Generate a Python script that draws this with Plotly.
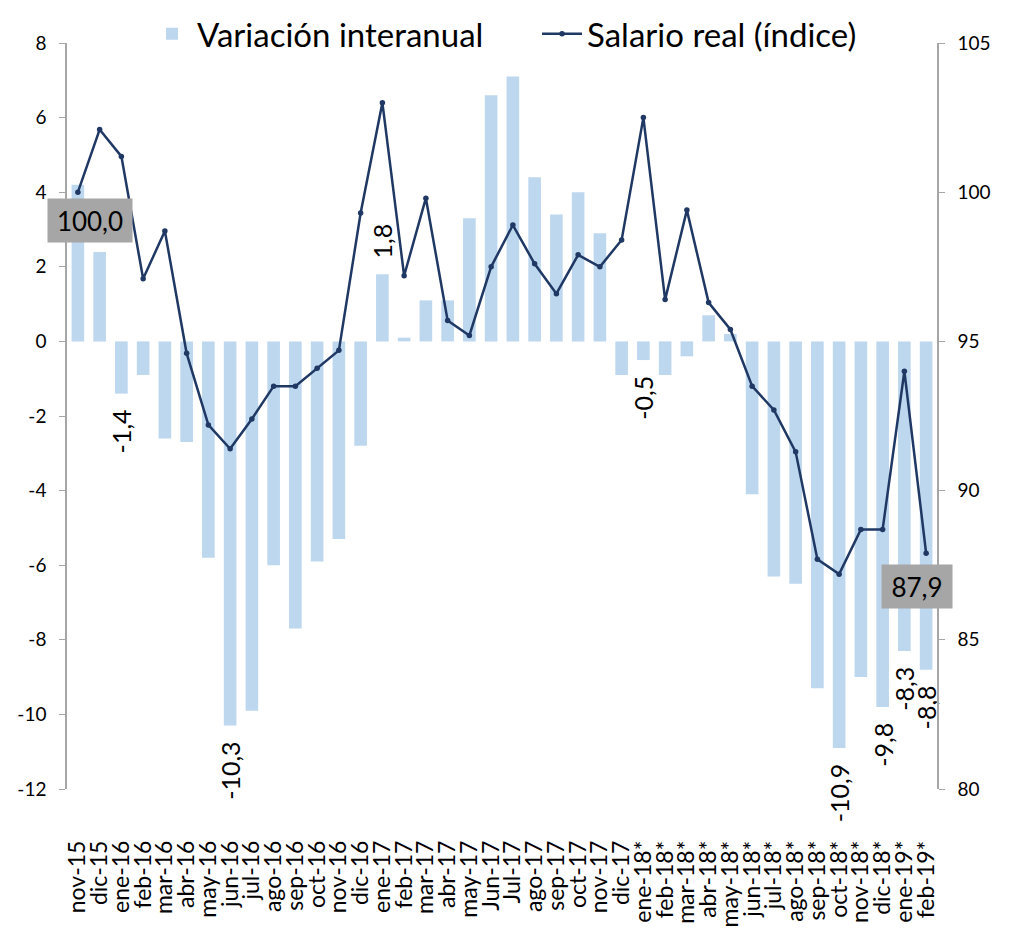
import plotly.graph_objects as go

months = ["nov-15", "dic-15",
          "ene-16", "feb-16", "mar-16", "abr-16", "may-16", "jun-16",
          "jul-16", "ago-16", "sep-16", "oct-16", "nov-16", "dic-16",
          "ene-17", "feb-17", "mar-17", "abr-17", "may-17", "Jun-17",
          "Jul-17", "ago-17", "sep-17", "oct-17", "nov-17", "dic-17",
          "ene-18*", "feb-18*", "mar-18*", "abr-18*", "may-18*", "jun-18*",
          "jul-18*", "ago-18*", "sep-18*", "oct-18*", "nov-18*", "dic-18*",
          "ene-19*", "feb-19*"]

variacion = [4.2, 2.4,
             -1.4, -0.9, -2.6, -2.7, -5.8, -10.3,
             -9.9, -6.0, -7.7, -5.9, -5.3, -2.8,
             1.8, 0.1, 1.1, 1.1, 3.3, 6.6,
             7.1, 4.4, 3.4, 4.0, 2.9, -0.9,
             -0.5, -0.9, -0.4, 0.7, 0.2, -4.1,
             -6.3, -6.5, -9.3, -10.9, -9.0, -9.8,
             -8.3, -8.8]

salario = [100.0, 102.1,
           101.2, 97.1, 98.7, 94.6, 92.2, 91.4,
           92.4, 93.5, 93.5, 94.1, 94.7, 99.3,
           103.0, 97.2, 99.8, 95.7, 95.2, 97.5,
           98.9, 97.6, 96.6, 97.9, 97.5, 98.4,
           102.5, 96.4, 99.4, 96.3, 95.4, 93.5,
           92.7, 91.3, 87.7, 87.2, 88.7, 88.7,
           94.0, 87.9]

# which bars carry a data label
bar_label_flags = [0, 0,
                   1, 0, 0, 0, 0, 1,
                   0, 0, 0, 0, 0, 0,
                   1, 0, 0, 0, 0, 0,
                   0, 0, 0, 0, 0, 0,
                   1, 0, 0, 0, 0, 0,
                   0, 0, 0, 1, 0, 1,
                   1, 1]

left_ticks = [-12, -10, -8, -6, -4, -2, 0, 2, 4, 6, 8]
right_ticks = [80, 85, 90, 95, 100, 105]


def es(v):
    return f"{v:.1f}".replace(".", ",")


PAD = "\u00a0\u00a0"
bar_text = [((es(v) + PAD) if v < 0 else (PAD + es(v))) if f else ""
            for v, f in zip(variacion, bar_label_flags)]

FONT = "Lato"
BAR_COLOR = "#BDD7EE"
LINE_COLOR = "#1F3864"
AXIS_COLOR = "#A6A6A6"

fig = go.Figure()

fig.add_trace(go.Bar(
    x=months, y=variacion, name="Variación interanual",
    marker=dict(color=BAR_COLOR, line=dict(width=0)),
    text=bar_text, textposition="outside", textangle=-90,
    textfont=dict(family=FONT, size=25, color="#000000"),
    constraintext="none", cliponaxis=False,
    xaxis="x", yaxis="y",
))

fig.add_trace(go.Scatter(
    x=months, y=salario, name="Salario real (índice)",
    mode="lines+markers",
    line=dict(color=LINE_COLOR, width=2.5),
    marker=dict(color=LINE_COLOR, size=5.5),
    xaxis="x", yaxis="y2",
))

n = len(months)
boundaries = [i + 0.5 for i in range(n - 1)]

fig.update_layout(
    width=1002, height=930,
    margin=dict(l=59, r=73, t=35, b=149, autoexpand=False),
    paper_bgcolor="white", plot_bgcolor="white",
    font=dict(family=FONT, size=16, color="#000000"),
    bargap=0.42,
    showlegend=True,
    legend=dict(orientation="h", x=0.092, xanchor="left", y=1.05, yanchor="top",
                font=dict(family=FONT, size=33, color="#000000"),
                itemwidth=40, entrywidth=335, bgcolor="rgba(0,0,0,0)"),
    xaxis=dict(
        type="category", range=[-0.5, n - 0.5],
        tickmode="array", tickvals=months,
        showline=False, ticks="", showgrid=False, zeroline=False,
        tickangle=-90, ticklabelstandoff=46,
        tickfont=dict(family=FONT, size=23, color="#000000"),
        anchor="y",
    ),
    xaxis2=dict(
        type="linear", range=[-0.5, n - 0.5],
        overlaying="x", anchor="free", position=12 / 20,
        showline=True, linecolor=AXIS_COLOR, linewidth=1.5,
        ticks="outside", ticklen=8, tickcolor=AXIS_COLOR, tickwidth=1.5,
        tickmode="array", tickvals=boundaries,
        showticklabels=False, showgrid=False, zeroline=False,
    ),
    yaxis=dict(
        range=[-12, 8], tickmode="array", tickvals=left_ticks,
        ticktext=[str(v) for v in left_ticks],
        showline=True, linecolor=AXIS_COLOR, linewidth=1.5,
        ticks="outside", ticklen=6, tickcolor=AXIS_COLOR,
        ticklabelstandoff=9,
        showgrid=False, zeroline=False,
        tickfont=dict(family=FONT, size=19, color="#000000"),
        anchor="x",
    ),
    yaxis2=dict(
        range=[80, 105], tickmode="array", tickvals=right_ticks,
        ticktext=[str(v) for v in right_ticks],
        overlaying="y", side="right", anchor="x",
        showline=True, linecolor=AXIS_COLOR, linewidth=1.5,
        ticks="outside", ticklen=6, tickcolor=AXIS_COLOR,
        ticklabelstandoff=9,
        showgrid=False, zeroline=False,
        tickfont=dict(family=FONT, size=19, color="#000000"),
    ),
)

# boxed labels on first and last index values
fig.add_annotation(
    x=months[0], y=salario[0], xref="x", yref="y2",
    text=es(salario[0]), showarrow=False,
    xshift=12, yshift=-28,
    bgcolor="#A6A6A6", borderpad=5, width=74, height=33,
    font=dict(family=FONT, size=26, color="#000000"),
)
fig.add_annotation(
    x=months[-1], y=salario[-1], xref="x", yref="y2",
    text=es(salario[-1]), showarrow=False,
    xshift=-9, yshift=-33,
    bgcolor="#A6A6A6", borderpad=5, width=60, height=33,
    font=dict(family=FONT, size=26, color="#000000"),
)

fig.write_html("out.html")
